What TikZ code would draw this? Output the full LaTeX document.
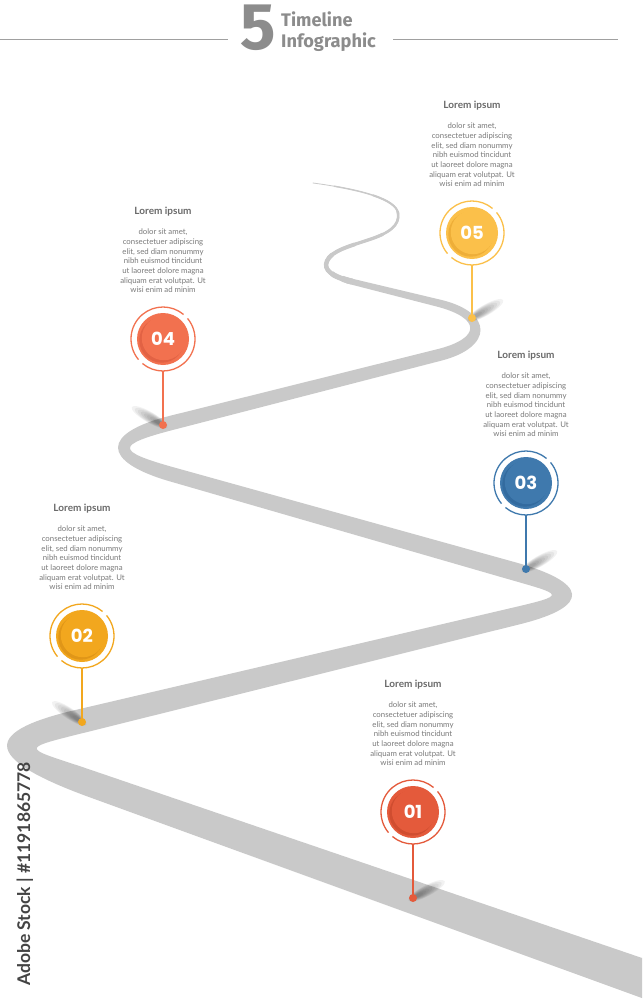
\documentclass[tikz,border=0pt]{standalone}
\usepackage{fontspec}
\setmainfont{Lato}
\newfontfamily\popp{Poppins}
\newfontfamily\fira{Fira Sans}
\usetikzlibrary{calc}
\definecolor{road}{HTML}{C9C9C9}
\definecolor{titlegray}{HTML}{6A6A6A}
\definecolor{bodygray}{HTML}{7A7A7A}
\definecolor{hdrgray}{HTML}{8C8C8C}
\definecolor{hdrline}{HTML}{A0A0A0}
\definecolor{wmgray}{HTML}{444444}
\definecolor{c1}{HTML}{E45A3B}\definecolor{c1d}{HTML}{D04D30}
\definecolor{c2}{HTML}{F2A71E}\definecolor{c2d}{HTML}{E09618}
\definecolor{c3}{HTML}{3F79AD}\definecolor{c3d}{HTML}{336B9F}
\definecolor{c4}{HTML}{F2714F}\definecolor{c4d}{HTML}{E26244}
\definecolor{c5}{HTML}{FBC04A}\definecolor{c5d}{HTML}{EEAE38}
\tikzset{
  titletxt/.style={font=\bfseries\fontsize{10}{10}\selectfont, text=titlegray, inner sep=0pt},
  bodytxt/.style={font=\fontsize{7.8}{9.7}\selectfont, text=bodygray, align=center, inner sep=0pt},
  numtxt/.style={font=\popp\bfseries\fontsize{18}{18}\selectfont, text=white, inner sep=0pt},
  pinring/.style={circle, minimum size=64pt, inner sep=0pt},
  pindot/.style={circle, fill=#1, minimum size=8pt, inner sep=0pt},
  hdrrule/.style={draw=hdrline, line width=1.4pt},
}
\begin{document}
\begin{tikzpicture}[x=1pt,y=-1pt]
\useasboundingbox (0,0) rectangle (642,1000);
\fill[white] (0,0) rectangle (642,1000);
\begin{scope}
\clip (0,0) rectangle (642,1000);
% main road
\fill[road]
 (720,984.6) -- (90,769.6)
 .. controls (26,747.8) and (16,749.7) .. (80,733.8)
 -- (520,624.2)
 .. controls (592.7,606.1) and (587.7,582.4) .. (515,562.2)
 -- (175,467.7)
 .. controls (115,451) and (115,444.9) .. (175,429.4)
 -- (440,361)
 .. controls (494,347.6) and (494,312.1) .. (440,299.6)
 -- (346,277.2) -- (346,283.2) -- (435,306.1)
 .. controls (482,317.8) and (482,338.6) .. (435,349.8)
 -- (170,415.8)
 .. controls (100.7,433.1) and (100.7,461.4) .. (170,481.4)
 -- (505,578.2)
 .. controls (564,595.2) and (569,594.5) .. (510,608.3)
 -- (75,710.1)
 .. controls (-25,733.4) and (-10,761) .. (90,797.4)
 -- (720,1026.4) -- cycle;
% tapered tail
\draw[road, line width=0.8pt, line cap=round] (352,281.6) .. controls (332,276.6) and (323,270) .. (327,261) .. controls (331,251) and (350,246) .. (368,240) .. controls (390,233) and (400,225) .. (398,213) .. controls (396,200) and (365,190) .. (313,183);
\foreach \w/\L in {1.4/200,2/160,2.6/130,3.2/100,3.8/70,4.4/45,5.2/22,6/10}{
  \draw[road, line width=\w pt, dash pattern=on \L pt off 3000pt] (352,281.6) .. controls (332,276.6) and (323,270) .. (327,261) .. controls (331,251) and (350,246) .. (368,240) .. controls (390,233) and (400,225) .. (398,213) .. controls (396,200) and (365,190) .. (313,183);
}
\end{scope}
% markers
\foreach \n/\x/\cy/\dy/\col/\dk/\ang in {01/413/812/898/c1/c1d/28, 02/82/636/722/c2/c2d/146, 03/526/483/569/c3/c3d/30, 04/163/339/425/c4/c4d/150, 05/472/233/318/c5/c5d/30}{
  \begin{scope}[shift={(\x,\dy)}, rotate=\ang]
    \foreach \k in {1,...,8}{
      \fill[black, opacity=0.05] (5+1.3*\k,0) ellipse[x radius=3+2.2*\k, y radius=1+0.55*\k];
    }
  \end{scope}
  \node[pinring] (ring\n) at (\x,\cy) {};
  \node[pindot=\col] (dot\n) at (\x,\dy) {};
  \draw[\col, line width=1.3pt] (ring\n.south) -- (dot\n.center);
  \draw[\col, line width=1.3pt] (\x,\cy) ++(320:32) arc[start angle=320, end angle=490, radius=32];
  \draw[\col, line width=1.3pt] (\x,\cy) ++(140:32) arc[start angle=140, end angle=310, radius=32];
  \fill[\col] (\x,\cy) circle[radius=26];
  \fill[\dk] (\x-1.2,\cy+1.2) circle[radius=22.5];
  \fill[\col] (\x+0.8,\cy-0.8) circle[radius=22];
  \node[numtxt] (num\n) at (\x,\cy) {\n};
  \node[titletxt] (title\n) at (\x,\cy-127) {Lorem ipsum};
  \node[bodytxt] (body\n) at (\x,\cy-78) {dolor sit amet,\\consectetuer adipiscing\\elit, sed diam nonummy\\nibh euismod tincidunt\\ut laoreet dolore magna\\aliquam erat volutpat. Ut\\wisi enim ad minim};
}
% header
\coordinate (hl1) at (0,39.5);
\coordinate (hl2) at (228,39.5);
\coordinate (hr1) at (393,39.5);
\coordinate (hr2) at (618,39.5);
\draw[hdrrule] (hl1) -- (hl2);
\draw[hdrrule] (hr1) -- (hr2);
\node[font=\fira\bfseries\fontsize{66}{66}\selectfont, text=hdrgray, anchor=base, inner sep=0pt] (five) at (258,50) {5};
\node[font=\fira\bfseries\fontsize{18.2}{18}\selectfont, text=hdrgray, anchor=base west, inner sep=0pt] (tl1) at (281,27) {Timeline};
\node[font=\fira\bfseries\fontsize{18.2}{18}\selectfont, text=hdrgray, anchor=base west, inner sep=0pt] (tl2) at (281,48) {Infographic};
% stock label
\node[font=\bfseries\fontsize{17.5}{17.5}\selectfont, text=wmgray, rotate=90, anchor=base west, inner sep=0pt] (wm) at (30,986) {Adobe Stock | \#1191865778};
\end{tikzpicture}
\end{document}
